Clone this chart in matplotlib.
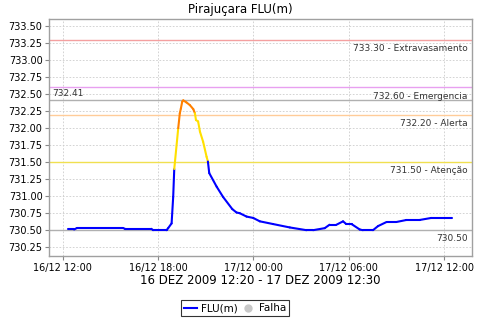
import matplotlib
matplotlib.use("Agg")
import matplotlib.pyplot as plt
import matplotlib.dates as mdates
from matplotlib.collections import LineCollection
from matplotlib.lines import Line2D
import numpy as np
import pandas as pd

# leituras do nivel (FLU)
times = [
    "2009-12-16 12:20", "2009-12-16 12:43", "2009-12-16 12:53", "2009-12-16 15:49",
    "2009-12-16 15:55", "2009-12-16 17:35", "2009-12-16 17:41", "2009-12-16 18:32",
    "2009-12-16 18:38", "2009-12-16 18:51", "2009-12-16 18:57", "2009-12-16 19:01",
    "2009-12-16 19:16", "2009-12-16 19:22", "2009-12-16 19:26", "2009-12-16 19:31",
    "2009-12-16 19:35", "2009-12-16 19:47", "2009-12-16 20:00", "2009-12-16 20:13",
    "2009-12-16 20:19", "2009-12-16 20:23", "2009-12-16 20:31", "2009-12-16 20:38",
    "2009-12-16 20:50", "2009-12-16 21:03", "2009-12-16 21:08", "2009-12-16 21:13",
    "2009-12-16 21:41", "2009-12-16 22:05", "2009-12-16 22:40", "2009-12-16 22:56",
    "2009-12-16 23:08", "2009-12-16 23:34", "2009-12-16 23:59", "2009-12-17 00:24",
    "2009-12-17 01:14", "2009-12-17 02:17", "2009-12-17 03:20", "2009-12-17 03:45",
    "2009-12-17 04:29", "2009-12-17 04:47", "2009-12-17 05:13", "2009-12-17 05:38",
    "2009-12-17 05:50", "2009-12-17 06:10", "2009-12-17 06:41", "2009-12-17 06:53",
    "2009-12-17 07:31", "2009-12-17 07:50", "2009-12-17 08:22", "2009-12-17 08:59",
    "2009-12-17 09:37", "2009-12-17 10:27", "2009-12-17 11:11", "2009-12-17 12:30",
]
levels = [
    730.51, 730.51, 730.53, 730.53,
    730.52, 730.52, 730.50, 730.50,
    730.53, 730.60, 730.99, 731.40,
    732.00, 732.22, 732.29, 732.39,
    732.41, 732.38, 732.34, 732.28,
    732.22, 732.12, 732.10, 731.95,
    731.80, 731.58, 731.51, 731.34,
    731.14, 730.99, 730.81, 730.76,
    730.75, 730.70, 730.68, 730.63,
    730.59, 730.54, 730.50, 730.50,
    730.53, 730.58, 730.58, 730.63,
    730.59, 730.59, 730.51, 730.50,
    730.50, 730.56, 730.62, 730.62,
    730.65, 730.65, 730.68, 730.68,
]

# cotas de referencia
ref_values = [733.30, 732.60, 732.20, 731.50]
ref_names = ["Extravasamento", "Emergencia", "Alerta", "Atenção"]
ref_colors = ["#F4A0A0", "#E8A0F0", "#FFCC99", "#F0E050"]
max_level = 732.41
min_level = 730.50

t = mdates.date2num(pd.to_datetime(times))
v = np.array(levels)

fig = plt.figure(figsize=(4.8, 3.2), dpi=100)
ax = fig.add_axes([0.103, 0.2, 0.88, 0.7406])

# cor de cada trecho conforme o valor final do trecho
seg_colors = []
for val in v[1:]:
    if val >= 732.2:
        seg_colors.append("#FF8000")
    elif val >= 731.5:
        seg_colors.append("#FFE000")
    else:
        seg_colors.append("#0000FF")
pts = np.column_stack([t, v]).reshape(-1, 1, 2)
segs = np.concatenate([pts[:-1], pts[1:]], axis=1)
ax.add_collection(LineCollection(segs, colors=seg_colors, linewidths=1.5, zorder=3,
                                 capstyle="round", joinstyle="round"))

x0 = mdates.date2num(pd.Timestamp("2009-12-16 11:10"))
x1 = mdates.date2num(pd.Timestamp("2009-12-17 13:44"))
ax.set_xlim(x0, x1)
ax.set_ylim(730.12, 733.607)

# linhas de cota
for val, name, col in zip(ref_values, ref_names, ref_colors):
    ax.axhline(val, color=col, lw=1, zorder=2)
    ax.text(0.99, val - 0.06, "%.2f - %s" % (val, name), transform=ax.get_yaxis_transform(),
            ha="right", va="top", fontsize=6.5, color="#333333")

ax.axhline(max_level, color="#B0B0B0", lw=1, zorder=2)
ax.text(0.007, max_level + 0.03, "%.2f" % max_level, transform=ax.get_yaxis_transform(),
        ha="left", va="bottom", fontsize=6.5, color="#333333")
ax.axhline(min_level, color="#B0B0B0", lw=1, zorder=2)
ax.text(0.99, min_level - 0.06, "%.2f" % min_level, transform=ax.get_yaxis_transform(),
        ha="right", va="top", fontsize=6.5, color="#333333")

ax.set_yticks(np.arange(730.25, 733.51, 0.25))
ax.yaxis.set_major_formatter(plt.FormatStrFormatter("%.2f"))
ax.xaxis.set_major_locator(mdates.HourLocator(byhour=[0, 6, 12, 18]))
ax.xaxis.set_major_formatter(mdates.DateFormatter("%d/%m %H:%M"))
ax.tick_params(labelsize=7, length=3, color="#888888", width=0.8, pad=2)

ax.grid(True, color="#CCCCCC", lw=0.6, ls=(0, (2, 2)))
for s in ax.spines.values():
    s.set_color("#A0A0A0")
    s.set_linewidth(1)

ax.set_title("Pirajuçara FLU(m)", fontsize=8.5, pad=4, x=0.451)
ax.set_xlabel("16 DEZ 2009 12:20 - 17 DEZ 2009 12:30", fontsize=8.5, labelpad=1)

handles = [
    Line2D([], [], color="#0000FF", lw=1.5),
    Line2D([], [], color="#C8C8C8", marker="o", ls="none", markersize=5),
]
leg = fig.legend(handles, ["FLU(m)", "Falha"], loc="center", bbox_to_anchor=(0.49, 0.037),
                 ncol=2, fontsize=7.5, frameon=True, fancybox=False, handlelength=1.2,
                 handletextpad=0.4, columnspacing=0.4, borderpad=0.3, borderaxespad=0)
leg.get_frame().set_edgecolor("black")
leg.get_frame().set_linewidth(0.8)

fig.savefig("out.png", dpi=100)
